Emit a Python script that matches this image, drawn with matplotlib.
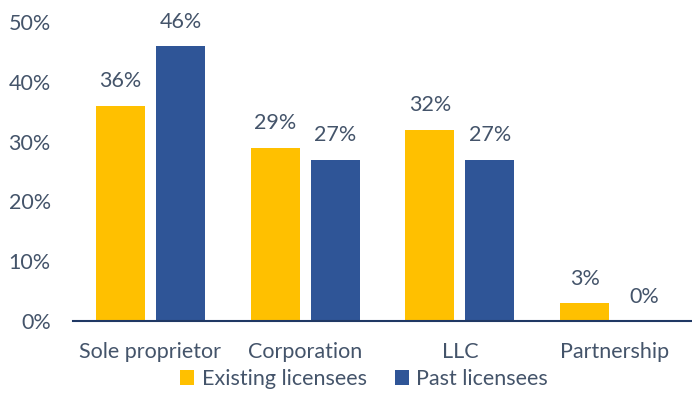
import numpy as np
import matplotlib
matplotlib.use("Agg")
import matplotlib.pyplot as plt

categories = ["Sole proprietor", "Corporation", "LLC", "Partnership"]
existing = [36, 29, 32, 3]
past = [46, 27, 27, 0]
yticks = [0, 10, 20, 30, 40, 50]

text_color = "#44546A"
plt.rcParams["font.family"] = ["Lato", "DejaVu Sans"]

fig = plt.figure(figsize=(6.92, 4.18), dpi=100)
ax = fig.add_axes([73 / 692, 1 - 321 / 418, 619 / 692, 299 / 418])

x = np.arange(len(categories))
w = 0.317
off = 0.194
b1 = ax.bar(x - off, existing, w, color="#FFC000", label="Existing licensees")
b2 = ax.bar(x + off, past, w, color="#2F5597", label="Past licensees")

for bars, vals in [(b1, existing), (b2, past)]:
    for r, v in zip(bars, vals):
        ax.text(r.get_x() + r.get_width() / 2, v + 2.4, f"{v}%", ha="center",
                va="bottom", fontsize=15.5, color=text_color)

ax.set_xlim(-0.5, 3.5)
ax.set_ylim(0, 50)
ax.set_yticks(yticks)
ax.set_yticklabels([f"{t}%" for t in yticks])
ax.set_xticks(x)
ax.set_xticklabels(categories)
ax.tick_params(axis="both", length=0, labelsize=15.5, labelcolor=text_color)
ax.tick_params(axis="y", pad=16)
ax.tick_params(axis="x", pad=15)
for s in ["top", "right", "left"]:
    ax.spines[s].set_visible(False)
ax.spines["bottom"].set_color("#1F3864")
ax.spines["bottom"].set_linewidth(1.5)

fig.legend(loc="center", bbox_to_anchor=(364 / 692, 1 - 379 / 418), ncol=2, frameon=False,
           fontsize=15.5, labelcolor=text_color, handlelength=0.65, handleheight=0.65,
           handletextpad=0.35, columnspacing=1.3)

fig.savefig("out.png", dpi=100)
